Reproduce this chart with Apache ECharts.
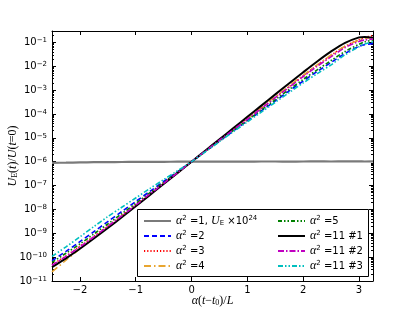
<!DOCTYPE html>
<html><head><meta charset="utf-8">
<script src="https://cdn.jsdelivr.net/npm/echarts@6/dist/echarts.min.js"></script>
<style>html,body{margin:0;padding:0;background:#fff}#c{width:415px;height:312px}</style>
</head><body><div id="c"></div>
<script>
// x values: alpha (t - t0) / L
const xs = [-2.5,-2.25,-2,-1.75,-1.5,-1.25,-1,-0.75,-0.5,-0.25,0,0.25,0.5,0.75,1,1.25,1.5,1.75,2,2.25,2.5,2.75,3,3.1,3.25];
// alpha^2 = 1, U_E x 1e24 (grey)
const a1 = [9.0e-7,9.1e-7,9.3e-7,9.5e-7,9.6e-7,9.7e-7,9.8e-7,9.8e-7,9.9e-7,1.0e-6,1.0e-6,1.01e-6,1.01e-6,1.0e-6,1.01e-6,1.02e-6,1.02e-6,1.01e-6,1.02e-6,1.03e-6,1.02e-6,1.03e-6,1.03e-6,1.02e-6,1.03e-6];
// alpha^2 = 2 (blue dashed)
const a2 = [7.08e-11,1.74e-10,4.47e-10,1.17e-9,3.09e-9,8.13e-9,2.14e-8,5.62e-8,1.48e-7,3.80e-7,1.0e-6,2.69e-6,7.24e-6,1.95e-5,5.13e-5,1.35e-4,3.55e-4,9.33e-4,2.40e-3,6.03e-3,1.45e-2,3.47e-2,6.76e-2,7.94e-2,9.12e-2];
// alpha^2 = 3 (red dotted)
const a3 = [4.79e-11,1.12e-10,2.82e-10,7.41e-10,2.00e-9,5.50e-9,1.55e-8,4.37e-8,1.26e-7,3.47e-7,1.0e-6,2.82e-6,7.94e-6,2.24e-5,6.31e-5,1.78e-4,5.01e-4,1.41e-3,3.98e-3,1.10e-2,2.88e-2,6.92e-2,0.132,0.162,0.191];
// alpha^2 = 4 (orange dash-dot)
const a4 = [2.40e-11,7.41e-11,2.24e-10,6.46e-10,1.82e-9,5.13e-9,1.45e-8,4.17e-8,1.23e-7,3.47e-7,1.0e-6,2.88e-6,8.32e-6,2.34e-5,6.61e-5,1.91e-4,5.37e-4,1.51e-3,4.27e-3,1.15e-2,2.95e-2,6.92e-2,0.126,0.148,0.162];
// alpha^2 = 5 (green dash-dot-dot)
const a5 = [6.03e-11,1.45e-10,3.55e-10,9.33e-10,2.45e-9,6.61e-9,1.78e-8,4.90e-8,1.35e-7,3.63e-7,1.0e-6,2.75e-6,7.59e-6,2.04e-5,5.50e-5,1.48e-4,3.98e-4,1.07e-3,2.82e-3,7.08e-3,1.74e-2,4.17e-2,8.32e-2,0.105,0.126];
// alpha^2 = 11 #1 (black solid)
const a11n1 = [3.80e-11,8.91e-11,2.24e-10,6.03e-10,1.66e-9,4.68e-9,1.35e-8,3.98e-8,1.17e-7,3.39e-7,1.0e-6,2.95e-6,8.71e-6,2.57e-5,7.59e-5,2.24e-4,6.61e-4,1.95e-3,5.62e-3,1.58e-2,4.17e-2,9.55e-2,0.162,0.170,0.158];
// alpha^2 = 11 #2 (magenta dash-dot)
const a11n2 = [4.57e-11,1.07e-10,2.69e-10,7.08e-10,1.95e-9,5.37e-9,1.51e-8,4.37e-8,1.23e-7,3.47e-7,1.0e-6,2.82e-6,7.94e-6,2.19e-5,6.03e-5,1.70e-4,4.79e-4,1.32e-3,3.72e-3,1.00e-2,2.51e-2,6.03e-2,0.110,0.126,0.138];
// alpha^2 = 11 #3 (cyan dash-dot-dot)
const a11n3 = [1.07e-10,2.69e-10,7.08e-10,1.91e-9,5.01e-9,1.23e-8,3.02e-8,7.41e-8,1.78e-7,4.17e-7,1.0e-6,2.63e-6,6.92e-6,1.82e-5,4.68e-5,1.20e-4,3.09e-4,7.94e-4,2.00e-3,4.90e-3,1.15e-2,3.02e-2,6.61e-2,8.51e-2,0.105];

const names = ['α² =1, U_E ×10²⁴','α² =2','α² =3','α² =4','α² =5','α² =11 #1','α² =11 #2','α² =11 #3'];
const legendRich = {
  'α² =1, U_E ×10²⁴': '{i|α}{s|2} =1, {i|U}{b|E} ×10{s|24}',
  'α² =2': '{i|α}{s|2} =2',
  'α² =3': '{i|α}{s|2} =3',
  'α² =4': '{i|α}{s|2} =4',
  'α² =5': '{i|α}{s|2} =5',
  'α² =11 #1': '{i|α}{s|2} =11 #1',
  'α² =11 #2': '{i|α}{s|2} =11 #2',
  'α² =11 #3': '{i|α}{s|2} =11 #3'
};
const dataSets = [a1,a2,a3,a4,a5,a11n1,a11n2,a11n3];
const styles = [
  {color:'#7a7a7a', width:2.2, type:'solid'},
  {color:'#0000ff', width:1.6, type:[5,3]},
  {color:'#ff0000', width:1.6, type:[1.2,2]},
  {color:'#e8a530', width:1.6, type:[7,3,1.5,3]},
  {color:'#008000', width:1.6, type:[4,2,1.5,2,1.5,2]},
  {color:'#000000', width:2, type:'solid'},
  {color:'#c000c0', width:1.6, type:[6,2,1.5,2]},
  {color:'#00bfbf', width:1.6, type:[5,2,1.5,2,1.5,2]}
];

const chart = echarts.init(document.getElementById('c'), null, {renderer:'canvas'});
const tickFont = {fontFamily:'DejaVu Sans', fontSize:10, color:'#000'};
function logLabel(v){
  const l = Math.log10(v), e = Math.round(l);
  if (Math.abs(l - e) > 1e-6) return '';
  return '10{s|' + (e < 0 ? '−' : '') + Math.abs(e) + '}';
}
const legendText = {fontFamily:'DejaVu Sans', fontSize:10, color:'#000',
  rich:{
    i:{fontFamily:'Liberation Serif', fontStyle:'italic', fontSize:12, color:'#000'},
    s:{fontFamily:'DejaVu Sans', fontSize:7, verticalAlign:'top', color:'#000'},
    b:{fontFamily:'DejaVu Sans', fontSize:7, verticalAlign:'bottom', color:'#000'}
  }};
function mkLegend(list, left){
  return {
    orient:'vertical', left:left, top:215, padding:0, itemGap:3, itemWidth:27, itemHeight:10,
    data:list, formatter:n => legendRich[n], textStyle:legendText,
    itemStyle:{opacity:0}, z:30
  };
}
const nameRich = {i:{fontFamily:'Liberation Serif', fontStyle:'italic', fontSize:12},
                  b:{fontFamily:'Liberation Serif', fontSize:8, verticalAlign:'bottom'}};
const minor = {show:true, splitNumber:9, length:2, lineStyle:{color:'#000', width:1}};
const option = {
  animation:false,
  backgroundColor:'#fff',
  grid:{left:52, right:42, top:31, bottom:31, containLabel:false, outerBoundsMode:'none'},
  graphic:[{type:'rect', left:137, top:209, z:25,
    shape:{width:231, height:67}, style:{fill:'#fff', stroke:'#000', lineWidth:1}}],
  legend:[mkLegend(names.slice(0,4), 143), mkLegend(names.slice(4), 277)],
  xAxis:[{
    type:'value', min:-2.5, max:3.25,
    name:'{i|α}({i|t}−{i|t}{b|0})/{i|L}', nameLocation:'middle', nameGap:14, nameMoveOverlap:false,
    nameTextStyle:{fontFamily:'Liberation Serif', fontSize:12, color:'#000', rich:nameRich},
    axisLine:{onZero:false, lineStyle:{color:'#000', width:1}},
    axisTick:{inside:true, length:4, lineStyle:{color:'#000'}},
    axisLabel:Object.assign({margin:4, showMinLabel:false, showMaxLabel:false,
      formatter:v => (v<0?'−':'') + Math.abs(v)}, tickFont),
    splitLine:{show:false}
  },{
    type:'value', min:-2.5, max:3.25, position:'top',
    axisLine:{onZero:false, lineStyle:{color:'#000', width:1}},
    axisTick:{inside:true, length:4, lineStyle:{color:'#000'}},
    axisLabel:{show:false}, splitLine:{show:false}
  }],
  yAxis:[{
    type:'log', logBase:10, min:1e-11, max:0.3, interval:1, position:'left',
    name:'{i|U}{b|E}({i|t})/{i|U}({i|t}=0)', nameLocation:'middle', nameGap:33, nameRotate:90,
    nameMoveOverlap:false,
    nameTextStyle:{fontFamily:'Liberation Serif', fontSize:12, color:'#000', rich:nameRich},
    axisLine:{onZero:false, lineStyle:{color:'#000', width:1}},
    axisTick:{inside:true, length:4, lineStyle:{color:'#000'}},
    minorTick:minor,
    axisLabel:Object.assign({margin:5, showMaxLabel:false, formatter:logLabel,
      rich:{s:{fontFamily:'DejaVu Sans', fontSize:7, verticalAlign:'top', padding:[0,0,4,0]}}}, tickFont),
    splitLine:{show:false}
  },{
    type:'log', logBase:10, min:1e-11, max:0.3, interval:1, position:'right',
    axisLine:{onZero:false, lineStyle:{color:'#000', width:1}},
    axisTick:{inside:true, length:4, lineStyle:{color:'#000'}},
    minorTick:minor,
    axisLabel:{show:false}, splitLine:{show:false}
  }],
  series: dataSets.map((d,i)=>({
    name:names[i], type:'line', xAxisIndex:0, yAxisIndex:0,
    data: xs.map((x,j)=>[x, d[j]]),
    symbol:'none', smooth:0.3, clip:true,
    lineStyle:{color:styles[i].color, width:styles[i].width, type:styles[i].type},
    itemStyle:{color:styles[i].color},
    z: 2 + i
  }))
};
chart.setOption(option);
</script></body></html>
